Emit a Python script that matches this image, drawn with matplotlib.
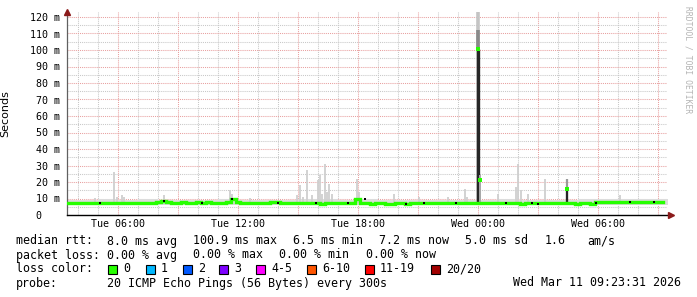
import matplotlib
matplotlib.use("Agg")
import matplotlib.pyplot as plt
from matplotlib.ticker import MultipleLocator, FuncFormatter

# ---- data (hours since Tue 00:00, values in ms) ----
t_start, t_end = 3.45, 33.45

median_times = [3.5 + 0.25 * i for i in range(120)]
median_ms = [
    7.1, 7.3, 7.0, 7.2, 7.4, 7.1, 7.2, 7.3,
    7.0, 7.4, 7.2, 7.1, 7.3, 7.5, 7.2, 7.1,
    7.3, 7.2, 7.6, 8.6, 7.8, 7.5, 7.4, 7.6,
    7.3, 7.5, 7.8, 7.4, 7.6, 7.3, 7.5, 7.2,
    7.6, 9.6, 7.9, 7.2, 7.0, 7.3, 7.1, 7.4,
    7.2, 7.6, 7.8, 7.3, 7.0, 7.2, 7.4, 7.1,
    7.3, 7.0, 7.2, 6.9, 7.4, 7.2, 7.0, 7.3,
    7.2, 7.5, 9.8, 7.4, 7.1, 6.9, 7.2, 7.0,
    6.6, 6.8, 7.1, 7.0, 6.9, 7.2, 7.3, 7.0,
    7.1, 7.0, 7.3, 7.2, 7.0, 7.4, 7.1, 7.0,
    7.2, 7.3, 7.4, 7.2, 7.1, 7.3, 7.0, 7.2,
    7.1, 7.3, 7.0, 6.9, 7.2, 7.4, 7.1, 7.3,
    7.0, 7.2, 7.3, 7.1, 7.4, 7.2, 6.9, 7.3,
    7.2, 6.4, 8.0, 7.8, 7.9, 7.7, 7.8, 8.0,
    7.8, 7.9, 7.7, 8.0, 7.8, 7.9, 7.8, 7.7,
]

band_times = [3.5 + i for i in range(31)]
band_lo = [6.2] * 31
band_hi = [9.2, 9.0, 9.4, 9.1, 9.6, 9.3, 9.2, 9.0, 9.5, 9.3, 9.1,
           9.0, 9.6, 9.8, 9.2, 9.4, 9.1, 9.0, 9.2, 9.1, 9.0, 9.3,
           9.4, 9.2, 9.0, 9.1, 9.6, 9.8, 9.6, 9.7, 9.6]

# isolated smoke spikes (time, max ms)
spike_times = [4.85, 5.80, 5.95, 6.20, 6.30, 8.30, 11.60, 11.70, 12.60,
               14.95, 15.10, 15.25, 15.45, 15.70, 16.00, 16.10, 16.20,
               16.35, 16.45, 16.55, 16.70, 17.95, 18.05, 19.80, 21.05,
               22.50, 23.35, 23.45, 25.00, 25.90, 26.00, 26.15, 26.50,
               27.35, 31.10]
spike_tops = [10.5, 26, 11, 12, 11, 12, 15, 13, 10.5,
              12, 18, 11, 27, 12, 21, 24, 13,
              31, 14, 19, 13, 22, 14, 13, 11,
              11, 16, 11, 13, 17, 31, 15, 13,
              22, 12]

# big excursions
big_time, big_median, big_max = 24.0, 100.9, 124.0
small_time, small_median, small_max = 28.45, 16.0, 22.0
after_big_time, after_big_median = 24.08, 21.0

black_dot_times = [5.1, 8.3, 10.2, 11.7, 14.0, 15.9, 17.5, 18.35, 20.4, 21.3,
                   22.9, 25.4, 26.7, 27.0, 29.9, 31.6, 32.8]
black_dot_ms = [7.2, 8.6, 7.5, 9.6, 7.1, 7.1, 7.0, 9.8, 6.9, 7.0,
                7.3, 7.2, 7.0, 6.9, 7.4, 7.6, 7.8]

x_labels = ["Tue 06:00", "Tue 12:00", "Tue 18:00", "Wed 00:00", "Wed 06:00"]

rtt_items = ["8.0 ms avg", "100.9 ms max", "6.5 ms min", "7.2 ms now",
             "5.0 ms sd", "1.6", "am/s"]
loss_items = ["0.00 % avg", "0.00 % max", "0.00 % min", "0.00 % now"]

loss_labels = ["0", "1", "2", "3", "4-5", "6-10", "11-19", "20/20"]
loss_colors = ["#26ff00", "#00b8ff", "#0059ff", "#7e00ff", "#ff00ff",
               "#ff5500", "#ff0000", "#a10000"]

# ---- figure ----
W, H = 697, 297
fig = plt.figure(figsize=(W / 100, H / 100), dpi=100)
fig.patch.set_facecolor("white")
ax = fig.add_axes([67 / W, 1 - 215 / H, 600 / W, 203 / H])
ax.set_xlim(t_start, t_end)
ax.set_ylim(0, 203 / 16.5 * 10)

mono = "DejaVu Sans Mono"

ax.xaxis.set_major_locator(MultipleLocator(3))
ax.xaxis.set_minor_locator(MultipleLocator(1))
ax.yaxis.set_major_locator(MultipleLocator(10))
ax.yaxis.set_minor_locator(MultipleLocator(5))


def xfmt(v, pos):
    h = int(round(v))
    if h % 6 == 0 and 6 <= h <= 30:
        return x_labels[h // 6 - 1]
    return ""


def yfmt(v, pos):
    if v == 0:
        return "0   "
    return f"{v:.0f} m"


ax.xaxis.set_major_formatter(FuncFormatter(xfmt))
ax.yaxis.set_major_formatter(FuncFormatter(yfmt))
ax.tick_params(which="both", length=0)
ax.tick_params(axis="y", pad=5, labelsize=7.2)
ax.tick_params(axis="x", pad=3, labelsize=7.2)
for lab in ax.get_xticklabels() + ax.get_yticklabels():
    lab.set_family(mono)

ax.grid(which="minor", color="#c8c8c8", linestyle=(0, (1, 1)), linewidth=0.75)
ax.grid(which="major", color="#e8a0a0", linestyle=(0, (1, 1)), linewidth=0.75)
ax.set_axisbelow(True)

for s in ["top", "right"]:
    ax.spines[s].set_visible(False)
ax.spines["left"].set_color("#606060")
ax.spines["bottom"].set_color("black")
ax.spines["left"].set_linewidth(0.9)
ax.spines["bottom"].set_linewidth(1.0)

ax.set_ylabel("Seconds", fontsize=8, labelpad=20)
ax.yaxis.set_label_coords(-57 / 600, 0.5)

# smoke band
ax.fill_between(band_times, band_lo, band_hi, step="mid", color="#dcdcdc", lw=0, zorder=2)
# spikes
ax.vlines(spike_times, 7.0, spike_tops, color="#cfcfcf", lw=1.3, zorder=2)

# big spike
ax.vlines([big_time], 7.0, big_max, color="#c4c4c4", lw=2.6, zorder=3)
ax.vlines([big_time], big_median, 112, color="#8a8a8a", lw=2.6, zorder=3)
ax.vlines([big_time], 7.0, big_median, color="#262626", lw=2.4, zorder=3)
ax.vlines([after_big_time], 7.0, 24, color="#a8a8a8", lw=1.4, zorder=3)
ax.vlines([small_time], 7.0, small_max, color="#9a9a9a", lw=1.6, zorder=3)
ax.vlines([small_time], 7.0, small_median, color="#262626", lw=1.6, zorder=3)

# median line coloured by loss (0 loss = green)
ax.plot(median_times, median_ms, color=loss_colors[0], lw=2.4,
        drawstyle="steps-mid", zorder=4, solid_joinstyle="miter")
ax.plot([big_time, after_big_time, small_time],
        [big_median, after_big_median, small_median], "s",
        color=loss_colors[0], ms=2.2, mew=0, zorder=5)
ax.plot(black_dot_times, black_dot_ms, "s", color="black", ms=1.6, mew=0, zorder=5)

# axis arrows
ax.plot([0], [1.0], marker="^", color="#8b1a1a", ms=4.5, transform=ax.transAxes,
        clip_on=False, zorder=6)
ax.plot([1.007], [0], marker=">", color="#8b1a1a", ms=4.5, transform=ax.transAxes,
        clip_on=False, zorder=6)

# watermark
fig.text(688 / W, 1 - 60 / H, "RRDTOOL / TOBI OETIKER", rotation=270, color="#b4b4b4",
         fontsize=5.8, family=mono, ha="center", va="center")


def put(x, y, s, **kw):
    fig.text(x / W, 1 - y / H, s, family=mono, fontsize=8.4, va="center", ha="left", **kw)


# legend lines
put(16, 241, "median rtt:")
for x, s in zip([107, 193, 293, 379, 465, 545, 587], rtt_items):
    put(x, 241, s)

put(16, 255, "packet loss:")
for x, s in zip([107, 193, 279, 366], loss_items):
    put(x, 255, s)

put(16, 269, "loss color:")
box_x = [108, 146, 183, 219, 256, 307, 365, 431]
for bx, lab, col in zip(box_x, loss_labels, loss_colors):
    fig.patches.append(plt.Rectangle((bx / W, 1 - 274 / H), 9 / W, 9 / H,
                                     transform=fig.transFigure, facecolor=col,
                                     edgecolor="black", lw=0.8))
    put(bx + 15, 269, lab)

put(16, 283, "probe:")
put(107, 283, "20 ICMP Echo Pings (56 Bytes) every 300s")
put(513, 283, "Wed Mar 11 09:23:31 2026")

fig.savefig("out.png", dpi=100, facecolor="white")
